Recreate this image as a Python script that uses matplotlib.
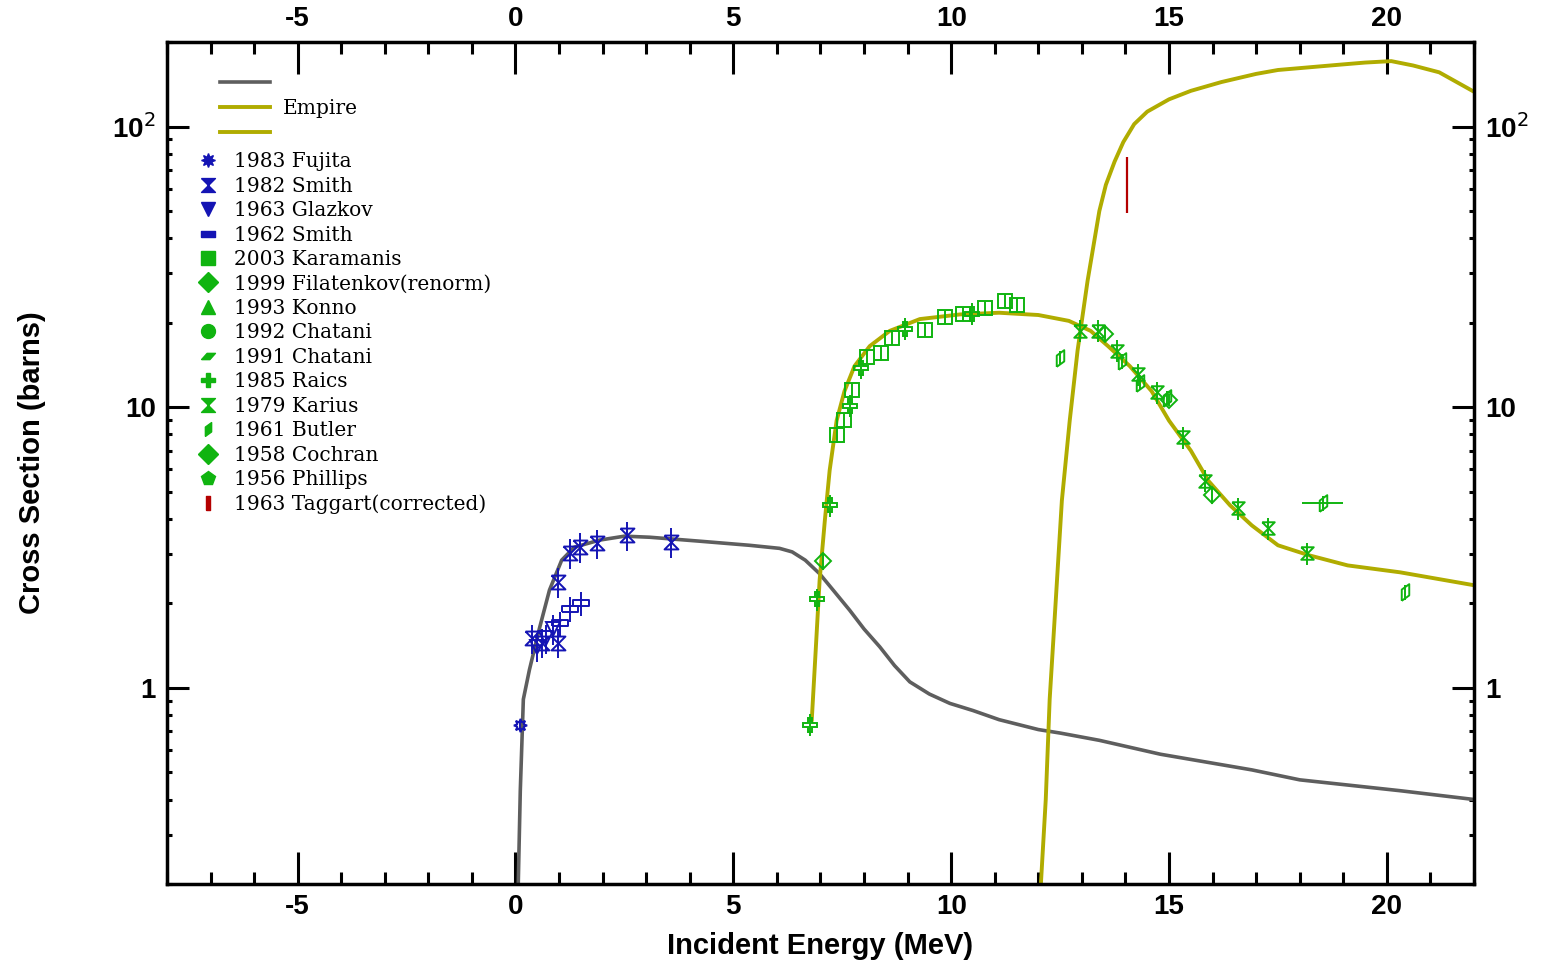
"""Neutron cross sections: Empire curves against measured data."""

import matplotlib
matplotlib.use("Agg")
import matplotlib.pyplot as plt
import numpy as np
from matplotlib.lines import Line2D
from matplotlib.path import Path
from matplotlib.ticker import FixedLocator, FuncFormatter, MultipleLocator

plt.rcParams["axes.unicode_minus"] = False

# ---- Empire curves (MeV, barns) ----
gray_x = [0.06, 0.11, 0.18, 0.32, 0.55, 0.78, 1.06, 1.35, 1.93, 2.5, 3.08, 4.23,
          5.37, 6.06, 6.35, 6.65, 6.98, 7.3, 7.67, 8.0, 8.36, 8.7, 9.05, 9.5,
          9.97, 10.5, 11.1, 12.0, 12.5, 13.4, 14.8, 16.9, 18.0, 20.3, 22.0]
gray_y = [0.19, 0.43, 0.91, 1.16, 1.63, 2.23, 2.85, 3.17, 3.36, 3.47, 3.44, 3.33,
          3.22, 3.14, 3.05, 2.85, 2.55, 2.22, 1.89, 1.62, 1.40, 1.20, 1.05, 0.95,
          0.88, 0.83, 0.77, 0.71, 0.69, 0.65, 0.58, 0.51, 0.47, 0.43, 0.40]

np_x = [6.80, 6.89, 6.98, 7.10, 7.21, 7.37, 7.55, 7.78, 8.13, 8.59, 9.28, 10.2,
        11.1, 12.0, 12.7, 13.2, 13.6, 14.1, 14.6, 15.0, 15.5, 15.9, 16.4, 16.9,
        17.5, 18.2, 19.1, 20.3, 22.0]
np_y = [0.77, 1.36, 2.42, 3.95, 5.95, 8.95, 11.4, 14.0, 16.5, 18.7, 20.6, 21.4,
        21.7, 21.3, 20.3, 18.7, 16.5, 14.0, 11.4, 8.95, 7.0, 5.47, 4.47, 3.79,
        3.22, 2.97, 2.73, 2.58, 2.32]

n2n_x = [12.05, 12.17, 12.26, 12.40, 12.54, 12.72, 12.90, 13.13, 13.40, 13.55,
         13.75, 13.95, 14.2, 14.5, 15.0, 15.5, 16.2, 17.0, 17.5, 18.9, 19.5,
         20.1, 20.6, 21.2, 22.0]
n2n_y = [0.19, 0.40, 0.91, 2.05, 4.65, 8.95, 15.9, 28.2, 50.0, 62.0, 75.0, 88.0,
         102.0, 113.0, 125.0, 134.0, 144.0, 154.0, 159.0, 166.0, 169.0, 171.0,
         165.0, 156.0, 133.0]

# ---- measurements ----
fujita_x = [0.11]
fujita_y = [0.74]
smith82_x = [0.39, 0.60, 0.97, 0.97, 1.24, 1.47, 1.86, 2.57, 3.58]
smith82_y = [1.50, 1.45, 1.45, 2.38, 3.02, 3.17, 3.27, 3.49, 3.30]
glazkov_x = [0.50, 0.71, 0.85]
glazkov_y = [1.40, 1.50, 1.62]
smith62_x = [1.01, 1.26, 1.51]
smith62_y = [1.70, 1.91, 2.00]

karamanis_x = [7.39, 7.53, 7.72, 8.06, 8.40, 8.63, 9.39, 9.85, 10.26, 10.77, 11.23, 11.50]
karamanis_y = [7.93, 9.0, 11.5, 15.1, 15.6, 17.7, 18.9, 21.0, 21.5, 22.6, 23.8, 23.1]
filatenkov_x = [15.0]
filatenkov_y = [10.6]
raics_x = [6.77, 6.93, 7.21, 7.67, 7.94, 8.93, 10.47]
raics_y = [0.74, 2.07, 4.47, 10.1, 13.8, 19.0, 21.5]
karius_x = [12.95, 13.36, 13.80, 14.28, 14.72, 15.32, 15.82, 16.58, 17.27, 18.16]
karius_y = [18.7, 18.7, 15.9, 13.1, 11.3, 7.8, 5.47, 4.36, 3.70, 3.02]
butler_x = [12.49, 13.92, 14.33, 14.95, 18.53, 20.41]
butler_y = [15.0, 14.6, 12.2, 10.8, 4.54, 2.19]
butler_xerr = [0.0, 0.0, 0.0, 0.0, 0.47, 0.0]
cochran_x = [7.05, 13.52, 15.98]
cochran_y = [2.83, 18.3, 4.85]
taggart_x = [14.03]
taggart_y = [64.8]
taggart_lo = [49.0]
taggart_hi = [78.0]

legend_labels = ["1983 Fujita", "1982 Smith", "1963 Glazkov", "1962 Smith",
                 "2003 Karamanis", "1999 Filatenkov(renorm)", "1993 Konno",
                 "1992 Chatani", "1991 Chatani", "1985 Raics", "1979 Karius",
                 "1961 Butler", "1958 Cochran", "1956 Phillips",
                 "1963 Taggart(corrected)"]

ytick_vals = [1, 10, 100]
ytick_text = ["1", "10", "10$^2$"]

GRAY = "#5e5e5e"
OLIVE = "#b0ac00"
BLUE = "#1414b4"
GREEN = "#10b410"
RED = "#b40000"

hourglass = Path([(-1, 1), (1, 1), (-1, -1), (1, -1), (-1, 1)])
dash_box = Path([(-1, -0.4), (1, -0.4), (1, 0.4), (-1, 0.4), (-1, -0.4)])
flat_para = Path([(-1, -0.45), (0.2, -0.45), (1, 0.45), (-0.2, 0.45), (-1, -0.45)])
tall_para = Path([(-0.45, -1), (0.45, -0.35), (0.45, 1), (-0.45, 0.35), (-0.45, -1)])
tall_box = Path([(-0.3, -1), (0.3, -1), (0.3, 1), (-0.3, 1), (-0.3, -1)])

markers = [(8, 1, 0), hourglass, "v", dash_box, "s", "D", "^", "o", flat_para,
           "P", hourglass, tall_para, "D", "p", tall_box]
colors = [BLUE] * 4 + [GREEN] * 10 + [RED]

fig = plt.figure(figsize=(15.5, 9.64), dpi=100)
ax = fig.add_axes([0.1077, 0.083, 0.8433, 0.8734])

ax.plot(gray_x, gray_y, color=GRAY, lw=2.6, zorder=2)
ax.plot(np_x, np_y, color=OLIVE, lw=2.8, zorder=2)
ax.plot(n2n_x, n2n_y, color=OLIVE, lw=2.8, zorder=2)


def draw(x, y, marker, color, rel, size=9.5, xerr=None):
    y = np.asarray(y)
    ax.errorbar(x, y, yerr=rel * y, xerr=xerr, fmt="none", ecolor=color,
                elinewidth=1.4, capsize=0, zorder=3)
    ax.plot(x, y, ls="none", marker=marker, ms=size, mfc="none", mec=color,
            mew=1.4, zorder=4)


draw(fujita_x, fujita_y, (8, 1, 0), BLUE, 0.04)
draw(smith82_x, smith82_y, hourglass, BLUE, 0.12, size=10)
draw(glazkov_x, glazkov_y, "v", BLUE, 0.12)
draw(smith62_x, smith62_y, dash_box, BLUE, 0.10, size=11)
draw(karamanis_x, karamanis_y, "s", GREEN, 0.06, size=10)
draw(filatenkov_x, filatenkov_y, "D", GREEN, 0.05, size=8)
draw(raics_x, raics_y, "P", GREEN, 0.09, size=10)
draw(karius_x, karius_y, hourglass, GREEN, 0.09, size=9)
draw(butler_x, butler_y, tall_para, GREEN, 0.06, size=12, xerr=butler_xerr)
draw(cochran_x, cochran_y, "D", GREEN, 0.07, size=8)
ty = np.asarray(taggart_y)
ax.errorbar(taggart_x, taggart_y,
            yerr=[ty - np.asarray(taggart_lo), np.asarray(taggart_hi) - ty],
            fmt="none", ecolor=RED, elinewidth=1.6, capsize=0, zorder=4)

ax.set_yscale("log")
ax.set_xlim(-8, 22)
ax.set_ylim(0.2, 200)

ax.xaxis.set_major_locator(MultipleLocator(5))
ax.xaxis.set_minor_locator(MultipleLocator(1))
ax.yaxis.set_major_locator(FixedLocator(ytick_vals))
ax.yaxis.set_major_formatter(
    FuncFormatter(lambda v, pos: dict(zip(ytick_vals, ytick_text)).get(round(v), "")))
ax.yaxis.set_minor_formatter(FuncFormatter(lambda v, pos: ""))

ax.tick_params(which="both", direction="in", top=True, right=True,
               labeltop=True, labelright=True, width=2.2, colors="black")
ax.tick_params(axis="x", which="major", length=23, pad=7)
ax.tick_params(axis="x", which="minor", length=8.5)
ax.tick_params(axis="y", which="major", length=16, pad=8)
ax.tick_params(axis="y", which="minor", length=3.5)
for lab in ax.xaxis.get_ticklabels(which="major") + ax.yaxis.get_ticklabels(which="major"):
    lab.set_fontfamily("Liberation Sans")
    lab.set_fontweight("bold")
    lab.set_fontsize(20)
for side in ax.spines.values():
    side.set_linewidth(2.5)

ax.set_xlabel("Incident Energy (MeV)", fontfamily="Liberation Sans",
              fontweight="bold", fontsize=21, labelpad=9)
ax.set_ylabel("Cross Section (barns)", fontfamily="Liberation Sans",
              fontweight="bold", fontsize=21, labelpad=48)

legend_font = {"family": "DejaVu Serif", "size": 14.5}
line_handles = [Line2D([], [], color=GRAY, lw=2.6),
                Line2D([], [], color=OLIVE, lw=2.8),
                Line2D([], [], color=OLIVE, lw=2.8)]
leg1 = ax.legend(line_handles, ["", "Empire", ""], loc="upper left",
                 bbox_to_anchor=(0.0405, 0.962), frameon=False, prop=legend_font,
                 handlelength=2.5, handletextpad=0.65, labelspacing=0.3,
                 borderpad=0, borderaxespad=0)
ax.add_artist(leg1)

mark_handles = [Line2D([], [], ls="none", marker=m, ms=10, mfc=c, mec=c, mew=1.0)
                for m, c in zip(markers, colors)]
ax.legend(mark_handles, legend_labels, loc="upper left",
          bbox_to_anchor=(0.0235, 0.869), frameon=False, prop=legend_font,
          handlelength=1.0, handletextpad=0.8, labelspacing=0.27,
          borderpad=0, borderaxespad=0)

fig.savefig("out.png", dpi=100)
